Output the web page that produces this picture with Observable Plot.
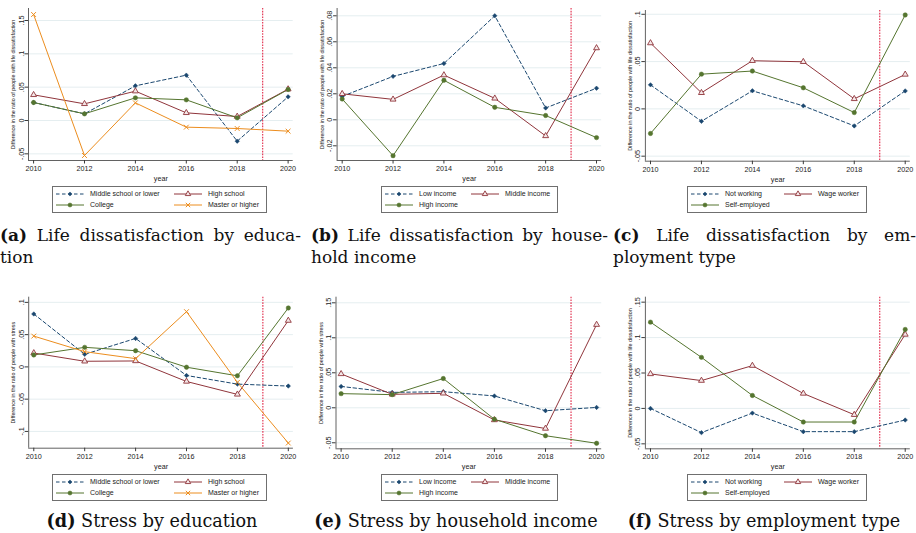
<!DOCTYPE html>
<html><head><meta charset="utf-8">
<script src="https://cdn.jsdelivr.net/npm/d3@7"></script>
<script src="https://cdn.jsdelivr.net/npm/@observablehq/plot@0.6"></script>
<style>
body{margin:0;background:#fff;width:916px;height:533px;position:relative;overflow:hidden;font-family:"Liberation Sans",Arial,sans-serif;}
.panel{position:absolute;}
.legend{position:absolute;border:0.8px solid #6f6f6f;background:#fff;display:grid;row-gap:0;padding:1.5px 7px 1.5px 3px;font-size:7px;color:#222;box-sizing:border-box;}
.legend .item{display:flex;align-items:center;height:10.8px;white-space:nowrap;}
.cap{position:absolute;font-family:"DejaVu Serif","Liberation Serif",serif;font-size:17px;color:#111;white-space:nowrap;line-height:22px;}
</style></head><body>
<script>
// ---------- data ----------
const years = [2010, 2012, 2014, 2016, 2018, 2020];
const policyYear = [2019];
const eduGroups = ["Middle school or lower", "High school", "College", "Master or higher"];
const incomeGroups = ["Low income", "Middle income", "High income"];
const jobGroups = ["Not working", "Wage worker", "Self-employed"];

// (a) life dissatisfaction by education
const lifeEduMiddle  = [0.027, 0.010, 0.052, 0.068, -0.031, 0.0355];
const lifeEduHigh    = [0.0385, 0.025, 0.044, 0.0115, 0.006, 0.047];
const lifeEduCollege = [0.027, 0.010, 0.034, 0.031, 0.004, 0.0465];
const lifeEduMaster  = [0.159, -0.0525, 0.0265, -0.010, -0.012, -0.016];
// (b) life dissatisfaction by household income
const lifeIncLow  = [0.018, 0.0334, 0.0433, 0.080, 0.0091, 0.0243];
const lifeIncMid  = [0.020, 0.0157, 0.0344, 0.0165, -0.0124, 0.0552];
const lifeIncHigh = [0.016, -0.0276, 0.0304, 0.0096, 0.0033, -0.0137];
// (c) life dissatisfaction by employment type
const lifeJobNot  = [0.0254, -0.0131, 0.0191, 0.0032, -0.018, 0.019];
const lifeJobWage = [0.0696, 0.017, 0.0509, 0.0498, 0.0106, 0.0364];
const lifeJobSelf = [-0.026, 0.0367, 0.040, 0.0223, -0.0039, 0.0993];
// (d) stress by education
const stressEduMiddle  = [0.082, 0.0195, 0.0441, -0.0133, -0.0267, -0.0297];
const stressEduHigh    = [0.0215, 0.0087, 0.0092, -0.0226, -0.0426, 0.0718];
const stressEduCollege = [0.0185, 0.0303, 0.0251, -0.0005, -0.0138, 0.0913];
const stressEduMaster  = [0.0477, 0.0236, 0.0128, 0.0856, -0.024, -0.118];
// (e) stress by household income
const stressIncLow  = [0.0305, 0.022, 0.023, 0.0169, -0.0042, 0.0005];
const stressIncMid  = [0.0484, 0.0192, 0.0207, -0.0174, -0.0296, 0.1188];
const stressIncHigh = [0.0202, 0.0188, 0.0418, -0.0164, -0.0399, -0.0507];
// (f) stress by employment type
const stressJobNot  = [0, -0.0342, -0.0066, -0.0328, -0.0328, -0.0164];
const stressJobWage = [0.0487, 0.0393, 0.0604, 0.0211, -0.0089, 0.1044];
const stressJobSelf = [0.1218, 0.0721, 0.0183, -0.0192, -0.0192, 0.1115];

// tick labels
const ticksA = [-0.05, 0, 0.05, 0.1, 0.15];
const ticksB = [-0.02, 0, 0.02, 0.04, 0.06, 0.08];
const ticksC = [-0.05, 0, 0.05, 0.1];
const ticksD = [-0.1, -0.05, 0, 0.05, 0.1];
const ticksE = [-0.05, 0, 0.05, 0.1, 0.15];
const ticksF = [-0.05, 0, 0.05, 0.1, 0.15];

const titleLife = "Difference in the ratio of people with life dissatisfaction";
const titleStress = "Difference in the ratio of people with stress";
const xTitle = "year";

// ---------- styles ----------
const seriesStyle = [
  {color:"#1a476f", dash:"3.5,2.5", symbol:"diamond2", fill:"#1a476f", stroke:"#1a476f", r:2.0, sw:0.5},
  {color:"#90353b", dash:null, symbol:"triangle", fill:"#f4e6e7", stroke:"#90353b", r:2.2, sw:0.9},
  {color:"#55752f", dash:null, symbol:"circle", fill:"#55752f", stroke:"#55752f", r:2.2, sw:0.5},
  {color:"#ec8d1e", dash:null, symbol:"times", fill:"none", stroke:"#ec8d1e", r:2.3, sw:1}
];
const gridColor = "#e2ecee";
const axisColor = "#3a3a3a";
const policyColor = "#e33a57";

const panels = [
  {left:0, top:0, width:305, names:eduGroups, series:[lifeEduMiddle, lifeEduHigh, lifeEduCollege, lifeEduMaster],
   ticks:ticksA, yDomain:[-0.06, 0.168], mL:28, mR:12.3, mT:8, mB:25, title:titleLife,
   legLeft:52, legTop:186, cols:"118px auto"},
  {left:305, top:0, width:305, names:incomeGroups, series:[lifeIncLow, lifeIncMid, lifeIncHigh],
   ticks:ticksB, yDomain:[-0.0313, 0.0856], mL:31.6, mR:8.9, mT:8, mB:25, title:titleLife,
   legLeft:381, legTop:186, cols:"86px auto"},
  {left:610, top:0, width:306, names:jobGroups, series:[lifeJobNot, lifeJobWage, lifeJobSelf],
   ticks:ticksC, yDomain:[-0.0553, 0.104], mL:34.9, mR:6.2, mT:10, mB:24.3, title:titleLife,
   legLeft:687, legTop:186, cols:"93px auto"},
  {left:0, top:285, width:305, names:eduGroups, series:[stressEduMiddle, stressEduHigh, stressEduCollege, stressEduMaster],
   ticks:ticksD, yDomain:[-0.126, 0.108], mL:28.2, mR:12.1, mT:11.7, mB:22.3, title:titleStress,
   legLeft:52, legTop:474, cols:"118px auto"},
  {left:305, top:285, width:305, names:incomeGroups, series:[stressIncLow, stressIncMid, stressIncHigh],
   ticks:ticksE, yDomain:[-0.0586, 0.158], mL:30.5, mR:8.8, mT:11.7, mB:21.7, title:titleStress,
   legLeft:381, legTop:474, cols:"86px auto"},
  {left:610, top:285, width:306, names:jobGroups, series:[stressJobNot, stressJobWage, stressJobSelf],
   ticks:ticksF, yDomain:[-0.057, 0.157], mL:34.9, mR:6.2, mT:11.7, mB:21.7, title:titleLife,
   legLeft:687, legTop:474, cols:"93px auto"}
];

const fmtTick = d => d === 0 ? "0" : String(d).replace("0.", ".");

function makePanel(p) {
  const rows = [];
  p.series.forEach((vals, i) => vals.forEach((v, j) => rows.push({year: years[j], value: v, s: i})));
  const marks = [
    Plot.ruleY(p.ticks, {stroke: gridColor, strokeWidth: 0.9}),
    Plot.ruleX(policyYear, {stroke: policyColor, strokeWidth: 1.2, strokeDasharray: "1.6,1.2"}),
    Plot.ruleX([2009.8], {stroke: axisColor, strokeWidth: 0.8}),
    Plot.ruleY([p.yDomain[0]], {stroke: axisColor, strokeWidth: 0.8})
  ];
  p.series.forEach((vals, i) => {
    const st = seriesStyle[i];
    const d = rows.filter(r => r.s === i);
    marks.push(Plot.line(d, {x: "year", y: "value", stroke: st.color, strokeWidth: 1, strokeDasharray: st.dash || undefined}));
  });
  p.series.forEach((vals, i) => {
    const st = seriesStyle[i];
    const d = rows.filter(r => r.s === i);
    marks.push(Plot.dot(d, {x: "year", y: "value", symbol: st.symbol, r: st.r, fill: st.fill, stroke: st.stroke, strokeWidth: st.sw}));
  });
  marks.push(
    Plot.axisX({ticks: years, tickFormat: d => String(d), tickSize: 3.5, tickPadding: 2, fontSize: 7.2, label: null, stroke: axisColor, color: "#222"}),
    Plot.axisY({ticks: p.ticks, tickFormat: () => "", tickSize: 3.5, label: null, stroke: axisColor}),
    Plot.text(p.ticks, {y: d => d, text: fmtTick, frameAnchor: "left", rotate: -90, dx: -5, lineAnchor: "bottom", textAnchor: "middle", fontSize: 7.2, fill: "#222"}),
    Plot.text([p.title], {frameAnchor: "left", rotate: -90, dx: -13.5, lineAnchor: "bottom", textAnchor: "middle", fontSize: 5.4, fill: "#222"}),
    Plot.text([xTitle], {frameAnchor: "bottom", dy: 18, lineAnchor: "middle", fontSize: 7.2, fill: "#222"})
  );
  const svg = Plot.plot({
    width: p.width, height: 185,
    marginLeft: p.mL, marginRight: p.mR, marginTop: p.mT, marginBottom: p.mB,
    x: {type: "linear", domain: [2009.8, 2020.2]},
    y: {domain: p.yDomain},
    style: {fontFamily: '"Liberation Sans", Arial, sans-serif', background: "transparent", overflow: "visible"},
    marks
  });
  const div = document.createElement("div");
  div.className = "panel";
  div.style.left = p.left + "px";
  div.style.top = p.top + "px";
  div.appendChild(svg);
  document.body.appendChild(div);

  // legend
  const leg = document.createElement("div");
  leg.className = "legend";
  leg.style.left = p.legLeft + "px";
  leg.style.top = p.legTop + "px";
  leg.style.gridTemplateColumns = p.cols;
  p.names.forEach((name, i) => {
    const st = seriesStyle[i];
    const sym = {diamond2: d3.symbolDiamond2, triangle: d3.symbolTriangle, circle: d3.symbolCircle, times: d3.symbolTimes}[st.symbol];
    const path = d3.symbol(sym, Math.PI * st.r * st.r * 0.85)();
    const item = document.createElement("div");
    item.className = "item";
    item.innerHTML = `<svg width="28" height="8" style="flex:none;margin-right:6px;overflow:visible">
      <line x1="0" x2="28" y1="4" y2="4" stroke="${st.color}" stroke-width="1" ${st.dash ? `stroke-dasharray="${st.dash}"` : ""}/>
      <path d="${path}" transform="translate(14,4)" fill="${st.fill}" stroke="${st.stroke}" stroke-width="${st.sw}"/></svg><span>${name}</span>`;
    leg.appendChild(item);
  });
  document.body.appendChild(leg);
}
panels.forEach(makePanel);

// captions
const captions = [
  {html: "<b>(a)</b> Life dissatisfaction by educa-", cont: "tion", left: 0, width: 301},
  {html: "<b>(b)</b> Life dissatisfaction by house-", cont: "hold income", left: 311, width: 297},
  {html: "<b>(c)</b> Life dissatisfaction by em-", cont: "ployment type", left: 613, width: 303}
];
captions.forEach(c => {
  const l1 = document.createElement("div");
  l1.className = "cap";
  l1.style.cssText = `left:${c.left}px;top:224px;width:${c.width}px;text-align:justify;text-align-last:justify;`;
  l1.innerHTML = c.html;
  document.body.appendChild(l1);
  const l2 = document.createElement("div");
  l2.className = "cap";
  l2.style.cssText = `left:${c.left}px;top:246px;`;
  l2.textContent = c.cont;
  document.body.appendChild(l2);
});
const bottomCaps = [
  {html: "<b>(d)</b> Stress by education", center: 152},
  {html: "<b>(e)</b> Stress by household income", center: 456},
  {html: "<b>(f)</b> Stress by employment type", center: 764}
];
bottomCaps.forEach(c => {
  const d = document.createElement("div");
  d.className = "cap";
  d.style.cssText = `left:${c.center - 160}px;width:320px;top:510px;text-align:center;font-size:17.6px;`;
  d.innerHTML = c.html;
  document.body.appendChild(d);
});
</script>
</body></html>
